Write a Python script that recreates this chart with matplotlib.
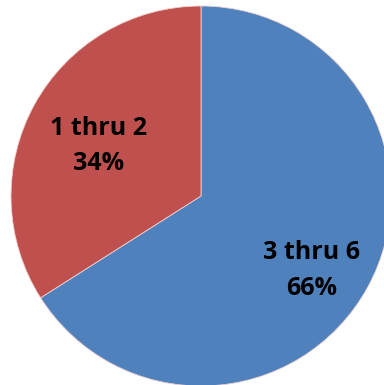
import matplotlib
matplotlib.use("Agg")
import matplotlib.pyplot as plt
import numpy as np

categories = ["3 thru 6", "1 thru 2"]
shares = [66, 34]
colors = ["#4F81BD", "#C0504D"]

fig = plt.figure(figsize=(3.84, 3.85), dpi=100)
ax = fig.add_axes([0, 0, 1, 1])
ax.set_aspect("equal")
ax.axis("off")

center = (201, -196)
radius = 190
wedges, _ = ax.pie(shares, colors=colors, startangle=90, counterclock=False,
                   center=center, radius=radius,
                   wedgeprops=dict(edgecolor="#f0d0d0", linewidth=0.6))
ax.set_xlim(0, 384)
ax.set_ylim(-385, 0)

# label placement: (angle in degrees, fraction of radius)
label_pos = {"3 thru 6": (326, 0.70), "1 thru 2": (154, 0.60)}
for cat, val in zip(categories, shares):
    ang, frac = label_pos[cat]
    x = center[0] + frac * radius * np.cos(np.radians(ang))
    y = center[1] + frac * radius * np.sin(np.radians(ang))
    ax.text(x, y, f"{cat}\n{val}%", ha="center", va="center",
            fontsize=18, fontweight="bold", family="Open Sans",
            linespacing=1.55, color="black")

fig.savefig("out.png", dpi=100)
